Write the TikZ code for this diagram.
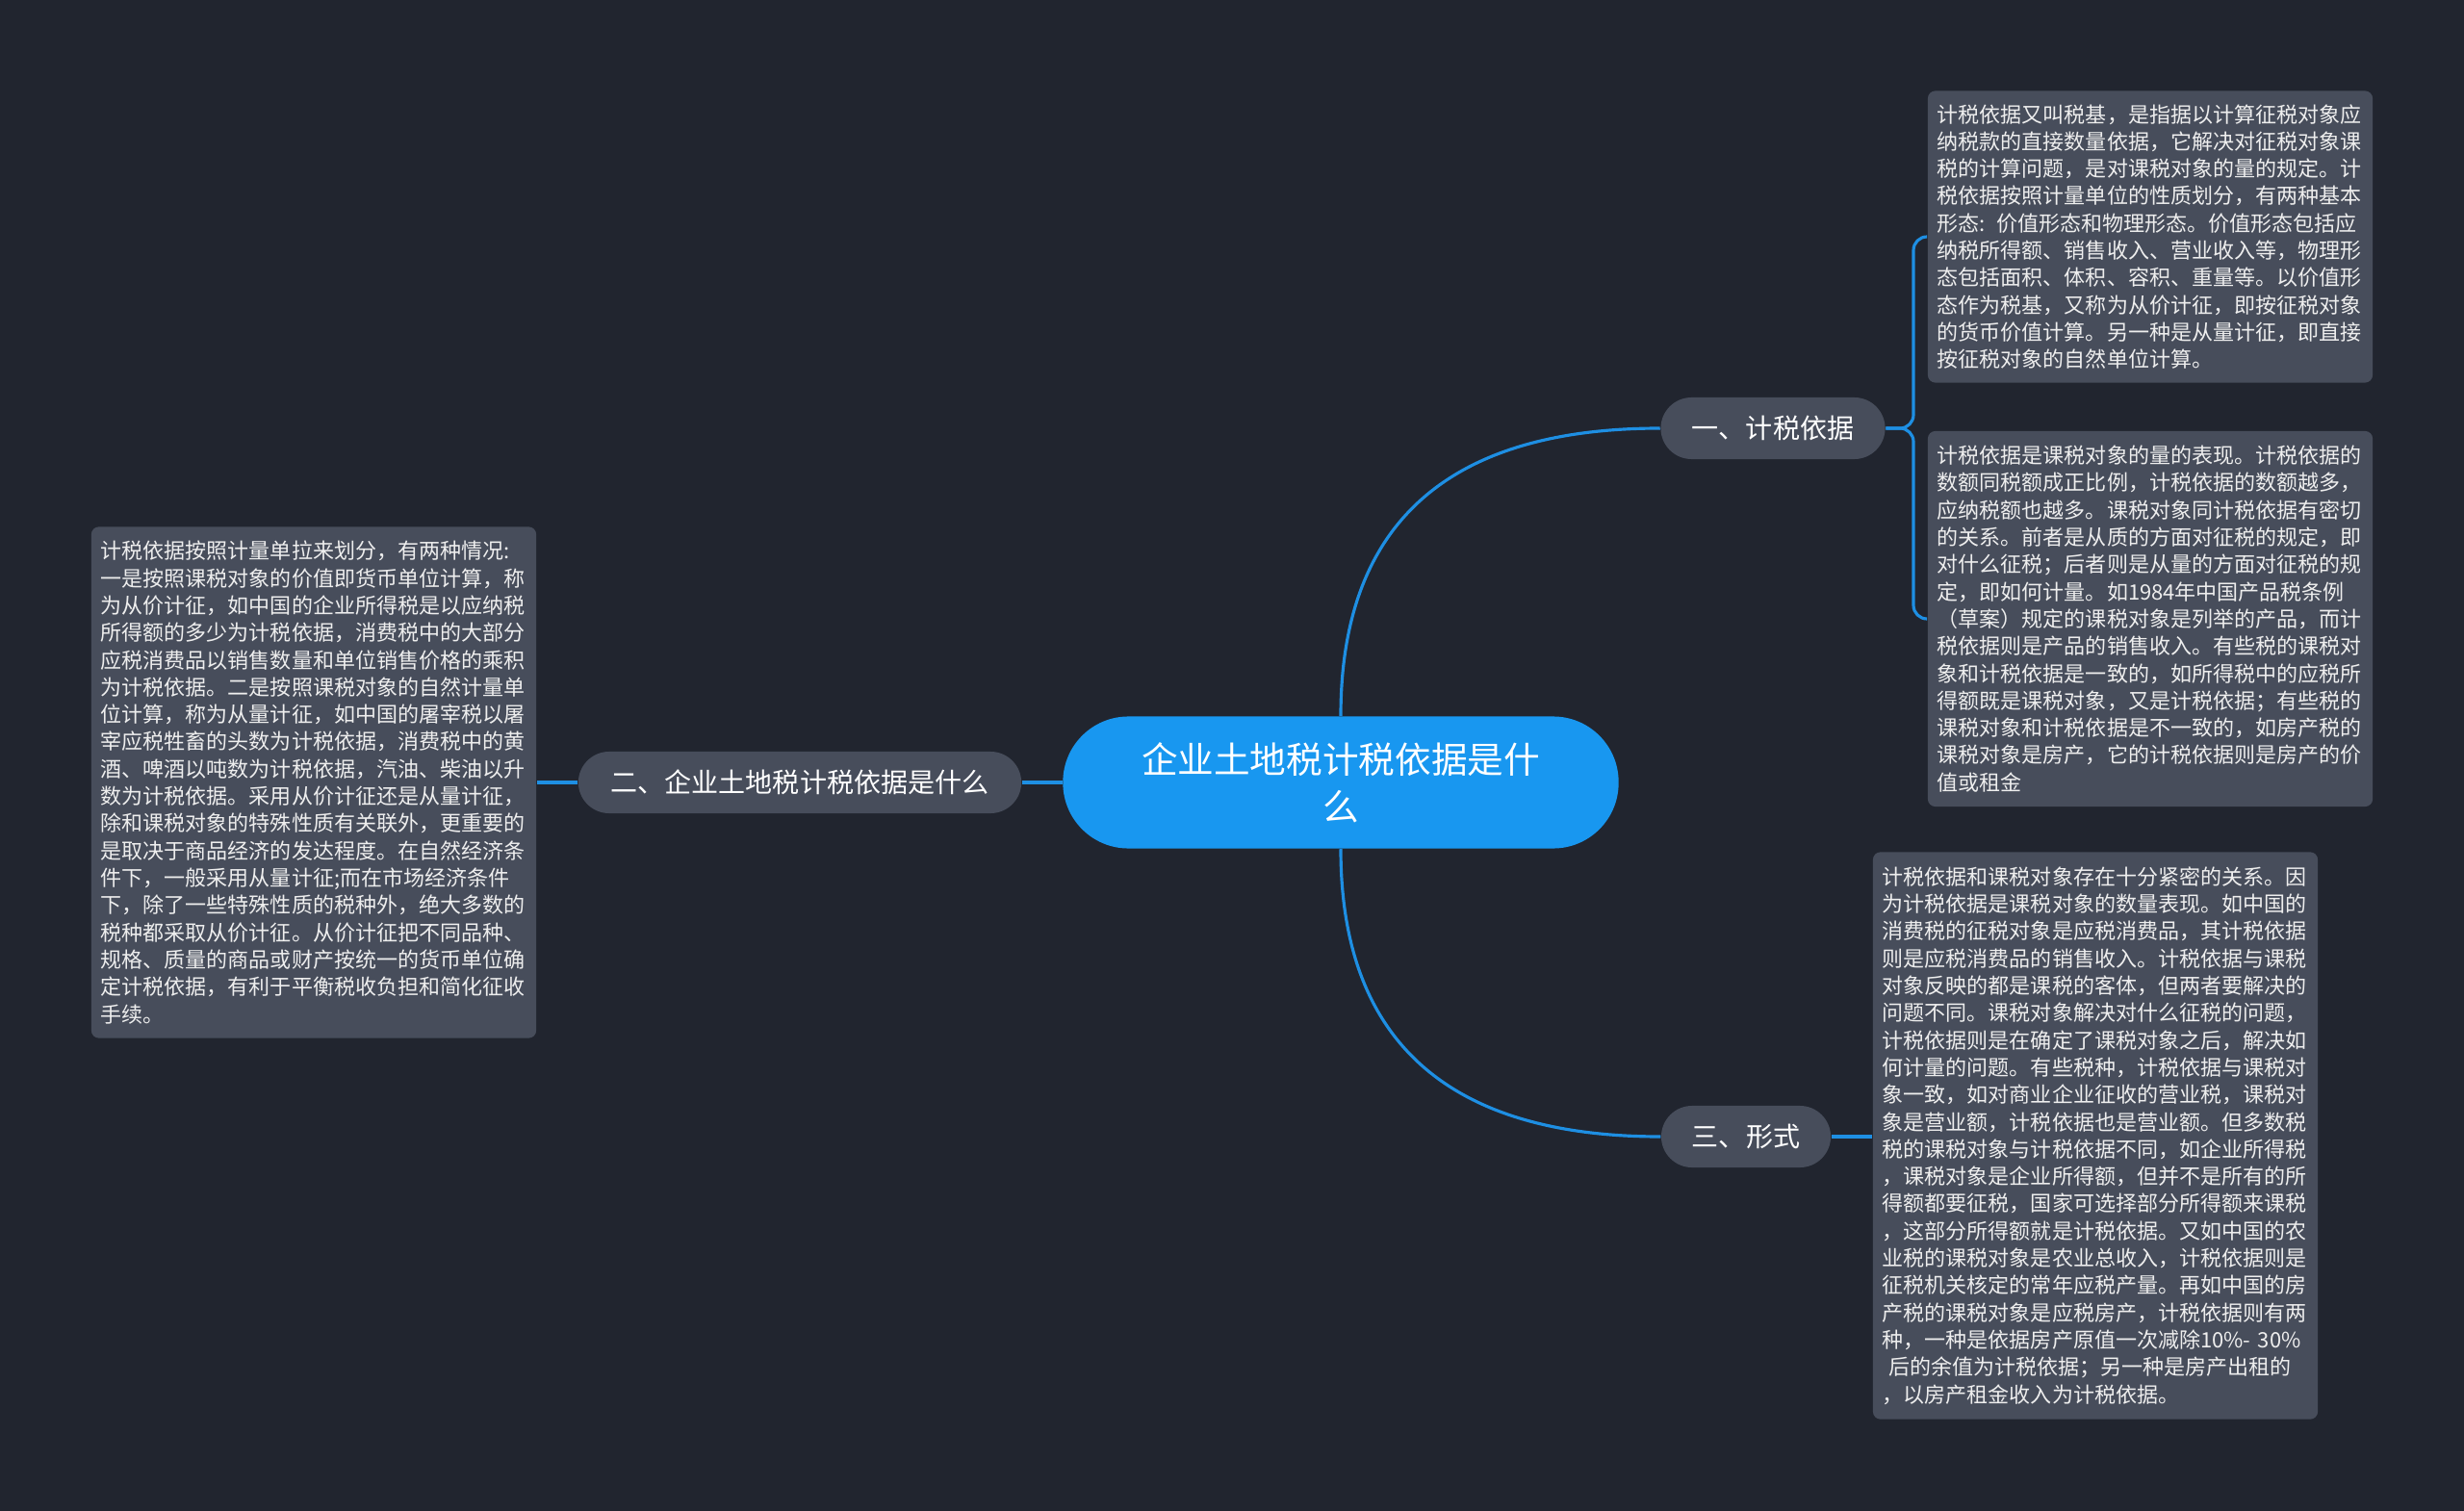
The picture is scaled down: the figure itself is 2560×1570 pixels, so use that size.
\documentclass[tikz,border=0pt]{standalone}
\usepackage{fontspec}
\setmainfont{Noto Sans CJK SC}
\usepackage{xcolor}
\usetikzlibrary{positioning,calc}

\definecolor{bgnavy}{HTML}{21252F}
\definecolor{leafgray}{HTML}{474D5B}
\definecolor{rootblue}{HTML}{1897F0}
\definecolor{linkblue}{HTML}{1E8FE3}
\definecolor{leaftext}{HTML}{EEEEEE}

\newcommand\leaffont{\fontsize{6.26pt}{8.05pt}\selectfont}
\newcommand\topicfont{\fontsize{7.97pt}{9.6pt}\selectfont}
\newcommand\rootfont{\fontsize{10.7pt}{13.9pt}\selectfont}

\begin{document}
\begin{tikzpicture}[
    x=0.01cm, y=-0.01cm,
    root/.style={rectangle, fill=rootblue, text=white, rounded corners=0.68cm,
      minimum width=5.77cm, minimum height=1.37cm, align=center, font=\rootfont},
    topic/.style={rectangle, fill=leafgray, text=white, rounded corners=0.32cm,
      minimum height=0.64cm, inner sep=0pt, font=\topicfont},
    leaf/.style={rectangle, fill=leafgray, text=leaftext, rounded corners=0.08cm,
      text width=4.42cm, inner xsep=0.1cm, inner ysep=0pt, align=left, font=\leaffont},
    link/.style={draw=linkblue, line width=0.9pt}
]
% Canvas
\fill[bgnavy] (0,0) rectangle (2560,1570);

% Root
\node[root] (root) at (1393,813) {企业土地税计税依据是什\\么};

% Topics
\node[topic, minimum width=2.33cm] (basis) at (1842,445) {一、计税依据};
\node[topic, minimum width=4.60cm] (what)  at (831,813)  {二、企业土地税计税依据是什么};
\node[topic, minimum width=1.76cm] (form)  at (1814,1181) {三、形式};

% Leaves of topic 1
\node[leaf, minimum height=3.03cm] (basisA) at (2234,246) {%
计税依据又叫税基，是指据以计算征税对象应\\
纳税款的直接数量依据，它解决对征税对象课\\
税的计算问题，是对课税对象的量的规定。计\\
税依据按照计量单位的性质划分，有两种基本\\
形态: 价值形态和物理形态。价值形态包括应\\
纳税所得额、销售收入、营业收入等，物理形\\
态包括面积、体积、容积、重量等。以价值形\\
态作为税基，又称为从价计征，即按征税对象\\
的货币价值计算。另一种是从量计征，即直接\\
按征税对象的自然单位计算。};

\node[leaf, minimum height=3.90cm] (basisB) at (2234,643) {%
计税依据是课税对象的量的表现。计税依据的\\
数额同税额成正比例，计税依据的数额越多，\\
应纳税额也越多。课税对象同计税依据有密切\\
的关系。前者是从质的方面对征税的规定，即\\
对什么征税；后者则是从量的方面对征税的规\\
定，即如何计量。如1984年中国产品税条例\\
（草案）规定的课税对象是列举的产品，而计\\
税依据则是产品的销售收入。有些税的课税对\\
象和计税依据是一致的，如所得税中的应税所\\
得额既是课税对象，又是计税依据；有些税的\\
课税对象和计税依据是不一致的，如房产税的\\
课税对象是房产，它的计税依据则是房产的价\\
值或租金};

% Leaf of topic 2
\node[leaf, minimum height=5.31cm] (whatA) at (326,813) {%
计税依据按照计量单拉来划分，有两种情况:\\
一是按照课税对象的价值即货币单位计算，称\\
为从价计征，如中国的企业所得税是以应纳税\\
所得额的多少为计税依据，消费税中的大部分\\
应税消费品以销售数量和单位销售价格的乘积\\
为计税依据。二是按照课税对象的自然计量单\\
位计算，称为从量计征，如中国的屠宰税以屠\\
宰应税牲畜的头数为计税依据，消费税中的黄\\
酒、啤酒以吨数为计税依据，汽油、柴油以升\\
数为计税依据。采用从价计征还是从量计征，\\
除和课税对象的特殊性质有关联外，更重要的\\
是取决于商品经济的发达程度。在自然经济条\\
件下，一般采用从量计征;而在市场经济条件\\
下，除了一些特殊性质的税种外，绝大多数的\\
税种都采取从价计征。从价计征把不同品种、\\
规格、质量的商品或财产按统一的货币单位确\\
定计税依据，有利于平衡税收负担和简化征收\\
手续。};

% Leaf of topic 3
\node[leaf, minimum height=5.89cm] (formA) at (2177,1180) {%
计税依据和课税对象存在十分紧密的关系。因\\
为计税依据是课税对象的数量表现。如中国的\\
消费税的征税对象是应税消费品，其计税依据\\
则是应税消费品的销售收入。计税依据与课税\\
对象反映的都是课税的客体，但两者要解决的\\
问题不同。课税对象解决对什么征税的问题，\\
计税依据则是在确定了课税对象之后，解决如\\
何计量的问题。有些税种，计税依据与课税对\\
象一致，如对商业企业征收的营业税，课税对\\
象是营业额，计税依据也是营业额。但多数税\\
税的课税对象与计税依据不同，如企业所得税\\
，课税对象是企业所得额，但并不是所有的所\\
得额都要征税，国家可选择部分所得额来课税\\
，这部分所得额就是计税依据。又如中国的农\\
业税的课税对象是农业总收入，计税依据则是\\
征税机关核定的常年应税产量。再如中国的房\\
产税的课税对象是应税房产，计税依据则有两\\
种，一种是依据房产原值一次减除10\%- 30\%\\
\hspace*{0.3em}后的余值为计税依据；另一种是房产出租的\\
，以房产租金收入为计税依据。};

% Connectors
\coordinate (fork) at (1988,445);
\draw[link] (root.north) .. controls +(0,-200) and +(-220,0) .. (basis.west);
\draw[link] (root.south) .. controls +(0,200) and +(-220,0) .. (form.west);
\draw[link] (root.west) -- (what.east);
\draw[link] (what.west) -- (whatA.east);
\draw[link] (form.east) -- (form.east -| formA.west);
\draw[link, rounded corners=0.14cm] (basis.east) -- (fork) |- (basisA.west);
\draw[link, rounded corners=0.14cm] (basis.east) -- (fork) |- (basisB.west);
\end{tikzpicture}
\end{document}
